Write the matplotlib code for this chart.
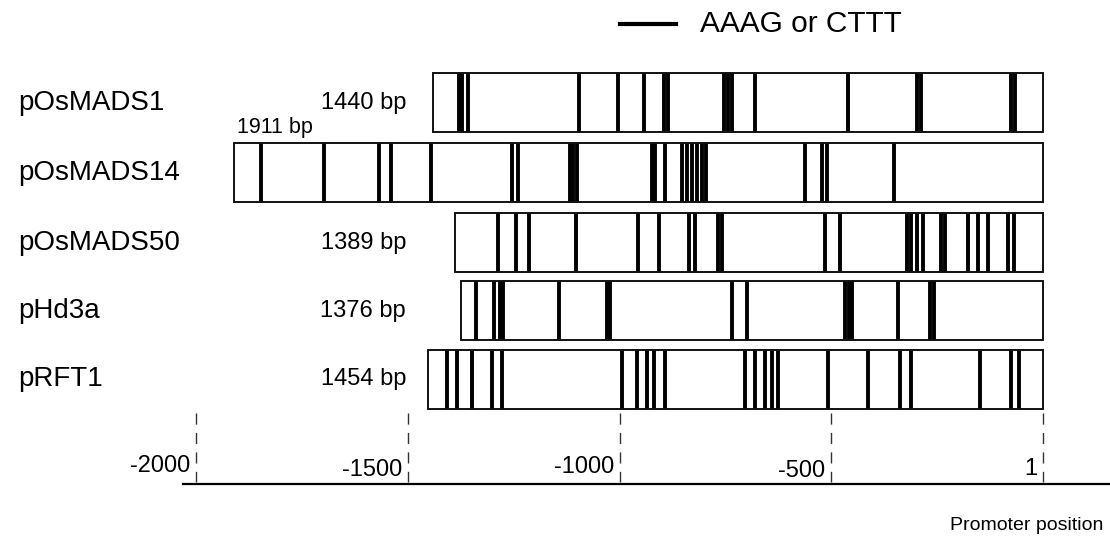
import matplotlib
matplotlib.use("Agg")
import matplotlib.pyplot as plt

plt.rcParams["font.family"] = ["Liberation Sans", "DejaVu Sans"]

# promoters, their lengths (bp) and AAAG/CTTT motif positions (relative to TSS)
promoters = ["pOsMADS1", "pOsMADS14", "pOsMADS50", "pHd3a", "pRFT1"]
lengths = [1440, 1911, 1389, 1376, 1454]
motifs = [
    [-1380, -1373, -1358, -1096, -1004, -943, -895, -886, -754, -744, -735,
     -680, -461, -298, -288, -76, -66],
    [-1847, -1699, -1569, -1540, -1446, -1254, -1240, -1117, -1110, -1101,
     -924, -917, -893, -853, -841, -829, -817, -806, -796, -562, -522, -510,
     -352],
    [-1288, -1245, -1214, -1103, -957, -907, -836, -822, -768, -758, -515,
     -480, -321, -312, -298, -283, -241, -232, -177, -154, -130, -83, -69],
    [-1339, -1297, -1283, -1276, -1143, -1030, -1023, -735, -699, -468, -458,
     -451, -343, -267, -258],
    [-1408, -1384, -1349, -1302, -1278, -995, -959, -936, -919, -893, -704,
     -680, -657, -640, -626, -508, -413, -338, -312, -149, -76, -57],
]
ticks = [-2000, -1500, -1000, -500, 1]
tick_labels = ["-2000", "-1500", "-1000", "-500", "1"]

# vertical layout (figure pixels, top = 0)
row_top = [73, 143, 213, 281, 350]
row_h = 59
label_dy = [0, 4, 1, 5, 3]  # small vertical jitter of the position labels

px_per_bp = 0.4233
x0_px = 1043

fig = plt.figure(figsize=(11.1, 5.44), dpi=100)
ax = fig.add_axes([0, 0, 1, 1])
ax.set_xlim(-x0_px / px_per_bp, (1110 - x0_px) / px_per_bp)
ax.set_ylim(544, 0)
ax.axis("off")

for name, L, pos, top in zip(promoters, lengths, motifs, row_top):
    ax.add_patch(plt.Rectangle((-L, top), L, row_h, fill=False,
                               edgecolor="#111111", lw=1.4, zorder=3))
    ax.vlines(pos, top, top + row_h, color="black", lw=2.8, zorder=2)
    ax.text(-2420, top + row_h / 2, name, fontsize=20, ha="left", va="center")
    if L == 1911:
        ax.text(-1905, top - 16, f"{L} bp", fontsize=15.5, ha="left", va="center")
    else:
        ax.text(-1505, top + row_h / 2, f"{L} bp", fontsize=17,
                ha="right", va="center")

# dashed guides and position labels
for t, lab, dy in zip(ticks, tick_labels, label_dy):
    ax.plot([t, t], [413, 482], color="#333333", lw=1, ls=(0, (8, 6)))
    ax.text(t - 14, 466 + dy, lab, fontsize=17, ha="right", va="center")

ax.plot([-2032, 200], [484, 484], color="black", lw=1.6)
ax.text(142, 525, "Promoter position", fontsize=14, ha="right", va="center")

# legend
ax.plot([-1000, -867], [24, 24], color="black", lw=3)
ax.text(-810, 24, "AAAG or CTTT", fontsize=21.5, ha="left", va="center")

fig.savefig("out.png", dpi=100)
